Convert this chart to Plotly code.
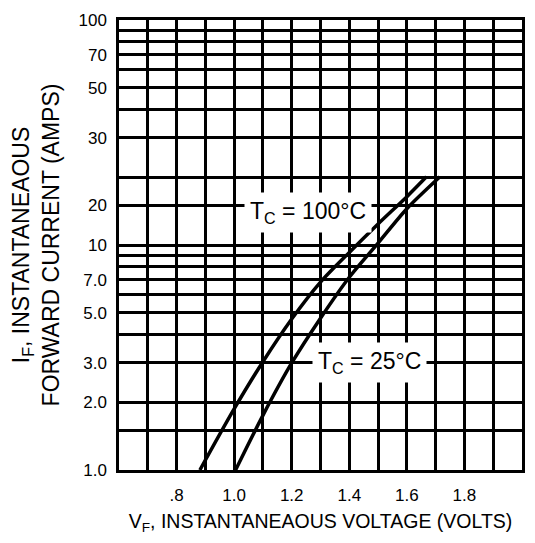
import math
import plotly.graph_objects as go

# ---- data ----
v_100c = [0.881, 1.00, 1.10, 1.20, 1.30, 1.40, 1.50, 1.60, 1.668]
i_100c = [1.0, 1.87, 3.03, 4.69, 6.84, 9.27, 12.4, 16.4, 20.1]

v_25c = [1.005, 1.10, 1.20, 1.30, 1.40, 1.50, 1.60, 1.715]
i_25c = [1.0, 1.75, 2.99, 4.73, 7.19, 10.2, 14.5, 20.1]

x_grid = [0.6, 0.7, 0.8, 0.9, 1.0, 1.1, 1.2, 1.3, 1.4, 1.5, 1.6, 1.7, 1.8, 1.9, 2.0]
x_text = ["", "", ".8", "", "1.0", "", "1.2", "", "1.4", "", "1.6", "", "1.8", "", ""]

y_grid = [1, 1.5, 2, 3, 4, 5, 6, 7, 8, 9, 10, 15, 20, 30, 40, 50, 60, 70, 80, 90, 100]
y_text = ["1.0", "", "2.0", "3.0", "", "5.0", "", "7.0", "", "", "10", "20", "", "30", "",
          "50", "", "70", "", "", "100"]

label_100c = "T<sub>C</sub> = 100°C"
label_25c = "T<sub>C</sub> = 25°C"
label_100c_pos = (1.257, 13.9)
label_25c_pos = (1.4695, 2.99)

FONT = "Liberation Sans, Arial, Helvetica, sans-serif"

fig = go.Figure()
fig.add_trace(go.Scatter(x=v_100c, y=i_100c, mode="lines",
                         line=dict(color="black", width=3.5, shape="spline", smoothing=0.8),
                         showlegend=False, hoverinfo="skip"))
fig.add_trace(go.Scatter(x=v_25c, y=i_25c, mode="lines",
                         line=dict(color="black", width=3.5, shape="spline", smoothing=0.8),
                         showlegend=False, hoverinfo="skip"))

for txt, (px, py) in [(label_100c, label_100c_pos), (label_25c, label_25c_pos)]:
    fig.add_annotation(x=px, y=math.log10(py), xref="x", yref="y", text=txt,
                       showarrow=False, bgcolor="white", borderpad=5,
                       font=dict(family=FONT, size=23, color="black"))

fig.update_layout(
    width=519, height=527,
    margin=dict(l=106, r=2, t=12, b=65),
    paper_bgcolor="white", plot_bgcolor="white",
    font=dict(family=FONT, color="black"),
    xaxis=dict(
        range=[0.6, 2.0], tickmode="array", tickvals=x_grid, ticktext=x_text,
        showgrid=True, gridcolor="black", gridwidth=2.5,
        showline=True, linecolor="black", linewidth=2.5, mirror=True,
        zeroline=False, ticks="", ticklabelstandoff=8,
        tickfont=dict(size=17),
        title=dict(text="V<sub>F</sub>, INSTANTANEAOUS VOLTAGE (VOLTS)",
                   font=dict(size=19.5), standoff=13),
    ),
    yaxis=dict(
        type="log", range=[0, 2], tickmode="array", tickvals=y_grid, ticktext=y_text,
        showgrid=True, gridcolor="black", gridwidth=2.5,
        showline=True, linecolor="black", linewidth=2.5, mirror=True,
        zeroline=False, ticks="", ticklabelstandoff=6,
        tickfont=dict(size=17),
        title=dict(text="I<sub>F</sub>, INSTANTANEAOUS<br>FORWARD CURRENT (AMPS)",
                   font=dict(size=23), standoff=22),
    ),
)

fig.write_html("out.html")
